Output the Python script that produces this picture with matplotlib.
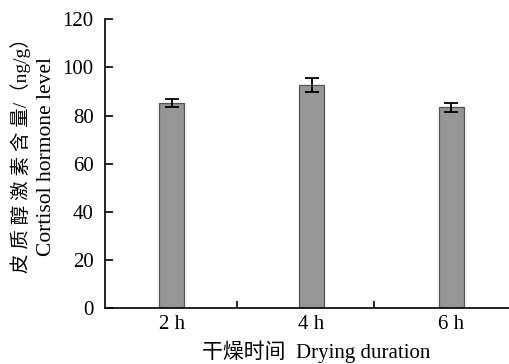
import numpy as np
import matplotlib
matplotlib.use("Agg")
import matplotlib.pyplot as plt

plt.rcParams["font.family"] = ["Liberation Serif", "Noto Sans CJK SC"]

# data
durations = ["2 h", "4 h", "6 h"]
cortisol = [85.2, 92.8, 83.4]
cortisol_err = [1.7, 2.9, 1.9]
yticks = [0, 20, 40, 60, 80, 100, 120]

fig = plt.figure(figsize=(5.1, 3.64), dpi=100)
ax = fig.add_axes([0.2053, 0.153, 0.7947, 0.794])

x = np.arange(len(durations))
ax.bar(x, cortisol, width=0.18, color="#969696", edgecolor="#555555",
       linewidth=0.9, zorder=2)
ax.errorbar(x, cortisol, yerr=cortisol_err, fmt="none", ecolor="black",
            elinewidth=1.3, capsize=5, capthick=1.3, zorder=3)

ax.set_xlim(-0.48, 2.42)
ax.set_ylim(0, 120)
ax.set_yticks(yticks)
ax.set_xticks(x)
ax.set_xticklabels(durations)
ax.set_xticks([0.47, 1.45], minor=True)

for side in ["top", "right"]:
    ax.spines[side].set_visible(False)
for side in ["left", "bottom"]:
    ax.spines[side].set_linewidth(1.2)
    ax.spines[side].set_color("black")

ax.tick_params(axis="y", direction="in", length=6, width=1.2,
               labelsize=15, pad=8)
ax.tick_params(axis="x", which="major", length=0, labelsize=15, pad=5)
ax.tick_params(axis="x", which="minor", direction="in", length=5, width=1.2)

fig.text(0.619, 0.033, "干燥时间  Drying duration", ha="center",
         va="center", fontsize=15)
# y axis title, two columns
fig.text(0.041, 0.585, "皮 质 醇 激 素 含 量/（ng/g）", rotation=90,
         ha="center", va="center", fontsize=14)
fig.text(0.092, 0.569, "Cortisol hormone level", rotation=90,
         ha="center", va="center", fontsize=15.5)

fig.savefig("out.png", dpi=100)
